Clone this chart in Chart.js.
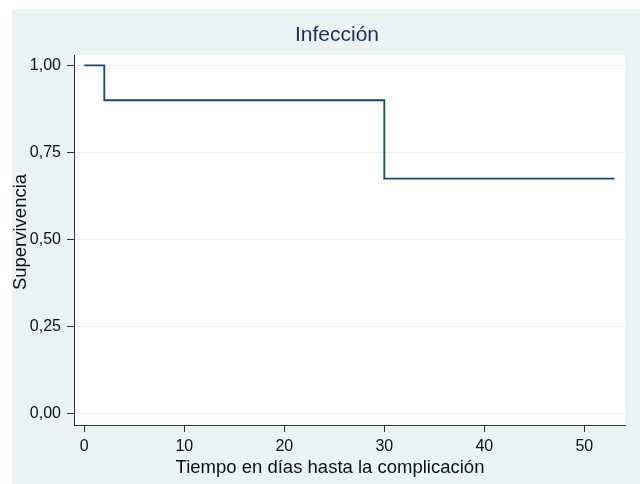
<!DOCTYPE html>
<html>
<head>
<meta charset="utf-8">
<script src="https://cdn.jsdelivr.net/npm/chart.js@4/dist/chart.umd.min.js"></script>
<style>
  html, body { margin: 0; padding: 0; background: #ffffff; }
  #wrap { width: 640px; height: 484px; }
</style>
</head>
<body>
<div id="wrap"><canvas id="kmChart" width="640" height="484"></canvas></div>
<script>
/*
==================================
    Data
==================================
*/
var survTimes = [0, 2, 30, 53];
var survValues = [1, 0.9, 0.675, 0.675];
var xTicks = [0, 10, 20, 30, 40, 50];
var yTicks = [0, 0.25, 0.5, 0.75, 1];

var chartTitle = 'Infección';
var xTitle = 'Tiempo en días hasta la complicación';
var yTitle = 'Supervivencia';

var fontFamily = "'Liberation Sans', Arial, Helvetica, sans-serif";
var bgOuter = '#eaf2f3';
var axisColor = '#333333';
var textColor = '#111111';

/*
==================================
    Background + titles plugin
==================================
*/
var stataFrame = {
    id: 'stataFrame',
    beforeDraw: function(chart){
        var ctx = chart.ctx;
        var a = chart.chartArea;
        ctx.save();
        ctx.fillStyle = '#ffffff';
        ctx.fillRect(0, 0, chart.width, chart.height);
        ctx.fillStyle = bgOuter;
        ctx.fillRect(12, 9, chart.width - 12, chart.height - 9);
        ctx.fillStyle = '#ffffff';
        ctx.fillRect(a.left, a.top, a.right - a.left, a.bottom - a.top);
        ctx.restore();
    },
    afterDraw: function(chart){
        var ctx = chart.ctx;
        ctx.save();
        ctx.textAlign = 'center';
        ctx.textBaseline = 'middle';
        ctx.fillStyle = '#1f2f5c';
        ctx.font = '21px ' + fontFamily;
        ctx.fillText(chartTitle, 337, 35);
        ctx.fillStyle = textColor;
        ctx.font = '18.5px ' + fontFamily;
        ctx.fillText(xTitle, 330, 468);
        ctx.translate(21, 232);
        ctx.rotate(-Math.PI / 2);
        ctx.fillText(yTitle, 0, 0);
        ctx.restore();
    }
};

/*
==================================
    Kaplan-Meier Chart
==================================
*/
var points = survTimes.map(function(t, i){ return {x: t, y: survValues[i]}; });

var ctx = document.getElementById('kmChart');
var kmChart = new Chart(ctx, {
    type: 'line',
    data: {
        datasets: [{
            data: points,
            borderColor: '#1a476f',
            borderWidth: 1.8,
            stepped: 'before',
            pointRadius: 0,
            fill: false
        }]
    },
    options: {
        responsive: false,
        animation: false,
        layout: { padding: { left: 12, top: 55, right: 15, bottom: 0 } },
        plugins: {
            legend: { display: false },
            tooltip: { enabled: false }
        },
        scales: {
            x: {
                type: 'linear',
                min: -1.03,
                max: 54.07,
                afterBuildTicks: function(axis){
                    axis.ticks = xTicks.map(function(v){ return {value: v}; });
                },
                afterFit: function(axis){ axis.height = 59; },
                grid: { drawOnChartArea: false, tickLength: 7, tickColor: axisColor, tickWidth: 1 },
                border: { color: axisColor, width: 1 },
                ticks: {
                    color: textColor,
                    padding: 5,
                    maxRotation: 0,
                    font: { family: fontFamily, size: 16 }
                }
            },
            y: {
                type: 'linear',
                min: -0.033,
                max: 1.03,
                afterBuildTicks: function(axis){
                    axis.ticks = yTicks.map(function(v){ return {value: v}; });
                },
                afterFit: function(axis){ axis.width = 62; },
                grid: { color: bgOuter, lineWidth: 1, tickLength: 7, tickColor: axisColor },
                border: { color: axisColor, width: 1 },
                ticks: {
                    color: textColor,
                    padding: 6,
                    font: { family: fontFamily, size: 16 },
                    callback: function(v){ return v.toFixed(2).replace('.', ','); }
                }
            }
        }
    },
    plugins: [stataFrame]
});
</script>
</body>
</html>
